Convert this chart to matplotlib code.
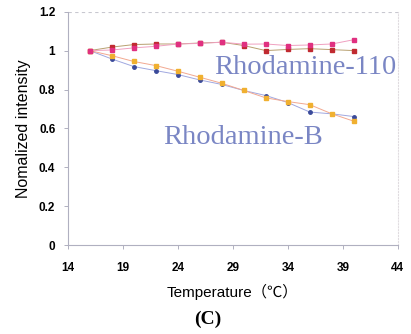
import matplotlib
matplotlib.use("Agg")
import matplotlib.pyplot as plt

# --- температура, °C
temp = [16, 18, 20, 22, 24, 26, 28, 30, 32, 34, 36, 38, 40]

# --- Rhodamine-110 (две серии)
r110_pink = [1.0, 1.003, 1.014, 1.022, 1.034, 1.037, 1.043, 1.033, 1.034, 1.026, 1.029, 1.034, 1.056]
r110_red = [1.0, 1.018, 1.031, 1.034, 1.034, 1.039, 1.043, 1.026, 1.0, 1.006, 1.01, 1.005, 1.0]

# --- Rhodamine-B (две серии)
rb_blue = [1.0, 0.957, 0.918, 0.897, 0.877, 0.849, 0.826, 0.795, 0.769, 0.733, 0.684, 0.675, 0.661]
rb_orange = [1.0, 0.974, 0.944, 0.923, 0.894, 0.863, 0.832, 0.795, 0.757, 0.738, 0.722, 0.675, 0.637]

xticks = [14, 19, 24, 29, 34, 39, 44]
yticks = [0, 0.2, 0.4, 0.6, 0.8, 1.0, 1.2]
ytick_labels = ["0", "0.2", "0.4", "0.6", "0.8", "1", "1.2"]

fig = plt.figure(figsize=(4.11, 3.34), dpi=100)
ax = fig.add_axes([0.165, 0.266, 0.803, 0.699])

ax.plot(temp, rb_blue, color="#a0a8e0", lw=0.7, marker="o", ms=2.5,
        mfc="#3a4a9a", mec="#3a4a9a")
ax.plot(temp, rb_orange, color="#f2a890", lw=0.7, marker="s", ms=2.5,
        mfc="#f0b030", mec="#f0b030")
ax.plot(temp, r110_red, color="#b8a070", lw=0.7, marker="s", ms=2.5,
        mfc="#c02a30", mec="#c02a30")
ax.plot(temp, r110_pink, color="#f0a0c0", lw=0.7, marker="s", ms=2.5,
        mfc="#e03080", mec="#e03080")

ax.set_xlim(14, 44)
ax.set_ylim(0, 1.2)
ax.set_xticks(xticks)
ax.set_yticks(yticks)
ax.set_yticklabels(ytick_labels)
ax.axhline(1.2, color="#c8c8d0", lw=0.8, ls=(0, (3, 3)))

for s in ["left", "bottom"]:
    ax.spines[s].set_color("#b0b0c0")
    ax.spines[s].set_linewidth(0.8)
ax.spines["top"].set_visible(False)
ax.spines["right"].set_color("#e0dce0")
ax.spines["right"].set_linestyle(":")
ax.spines["right"].set_linewidth(0.8)

ax.tick_params(axis="both", direction="out", length=3, width=0.7, color="#b0b0c0",
               labelsize=8.5)
ax.tick_params(axis="x", pad=9)
ax.tick_params(axis="y", pad=6)
for lab in ax.get_xticklabels() + ax.get_yticklabels():
    lab.set_fontweight("bold")
    lab.set_family("Liberation Sans")

ax.text(35.6, 0.913, "Rhodamine-110", family="Liberation Serif", fontsize=20.5,
        color="#7a86c4", ha="center", va="center")
ax.text(29.9, 0.554, "Rhodamine-B", family="Liberation Serif", fontsize=20.5,
        color="#7a86c4", ha="center", va="center")

ax.set_ylabel("Nomalized intensity", family="Liberation Sans", fontsize=11.5, labelpad=6)
ax.set_xlabel("Temperature（℃）", family=["Liberation Sans", "Noto Sans CJK SC"],
              fontsize=11, labelpad=7)

fig.text(0.506, 0.043, "(C)", family="Liberation Serif", fontweight="bold",
         fontsize=14, ha="center", va="center")

fig.savefig("out.png", dpi=100)
